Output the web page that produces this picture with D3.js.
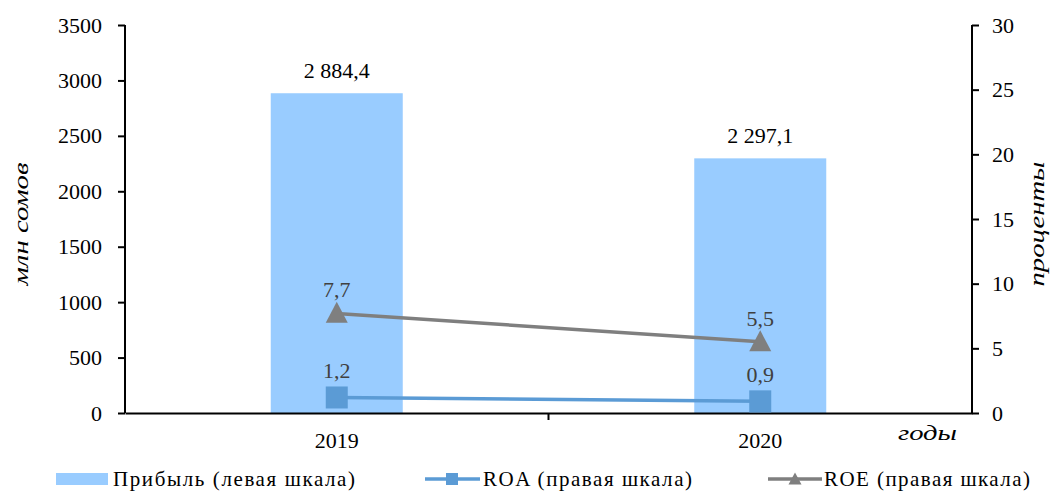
<!DOCTYPE html>
<meta charset="utf-8">
<script src="https://d3js.org/d3.v7.js"></script>
<style>
  body { margin: 0; background: #fff; }
</style>
<body>
<div id="chart"></div>
<script>
  const years = ["2019", "2020"];
  const profit = [2884.4, 2297.1];
  const roa = [1.2, 0.9];
  const roe = [7.7, 5.5];
  const leftTicks = [0, 500, 1000, 1500, 2000, 2500, 3000, 3500];
  const rightTicks = [0, 5, 10, 15, 20, 25, 30];

  const width = 1052, height = 491;
  const margin = {left: 125, right: 80, top: 25, bottom: 78};
  const FONT = '"Liberation Serif", serif';
  const fmt = v => v.toFixed(1).replace(".", ",");
  const fmtBig = v => d3.format(",.1f")(v).replace(",", " ").replace(".", ",");

  const svg = d3.select("#chart").append("svg")
    .attr("width", width).attr("height", height);

  const x = d3.scaleBand().domain(years)
    .range([margin.left, width - margin.right]);
  const yL = d3.scaleLinear().domain([0, 3500])
    .range([height - margin.bottom, margin.top]);
  const yR = d3.scaleLinear().domain([0, 30])
    .range([height - margin.bottom, margin.top]);

  const barW = 132;
  const cx = d => x(d) + x.bandwidth() / 2;

  function txt(sel, size) {
    return sel.style("font-family", FONT).style("font-size", size + "px");
  }

  // bars
  svg.selectAll(".bar").data(years).join("rect")
    .attr("x", d => cx(d) - barW / 2)
    .attr("y", (d, i) => yL(profit[i]))
    .attr("width", barW)
    .attr("height", (d, i) => yL(0) - yL(profit[i]))
    .attr("fill", "#99CCFF");

  svg.selectAll(".barlbl").data(years).join("text")
    .attr("x", d => cx(d))
    .attr("y", (d, i) => yL(profit[i]) - 15)
    .attr("text-anchor", "middle")
    .call(txt, 22)
    .text((d, i) => fmtBig(profit[i]));

  // axes
  const axL = svg.append("g").attr("transform", `translate(${margin.left},0)`)
    .call(d3.axisLeft(yL).tickValues(leftTicks).tickSize(7).tickPadding(16).tickFormat(d3.format("d")));
  const axR = svg.append("g").attr("transform", `translate(${width - margin.right},0)`)
    .call(d3.axisRight(yR).tickValues(rightTicks).tickSize(7).tickPadding(13));
  const axB = svg.append("g").attr("transform", `translate(0,${yL(0)})`)
    .call(d3.axisBottom(x).tickValues([]).tickSizeOuter(0));
  axB.append("line").attr("x1", x("2020")).attr("x2", x("2020")).attr("y1", 0).attr("y2", 7)
    .attr("stroke", "#000").attr("stroke-width", 2);
  [axL, axR, axB].forEach(a => {
    a.select(".domain").attr("stroke", "#000").attr("stroke-width", 2);
    a.selectAll(".tick line").attr("stroke", "#000").attr("stroke-width", 2);
    a.selectAll("text").attr("fill", "#000").call(txt, 22);
  });
  axL.select(".domain").attr("d", `M0,${yL(3500)}V${yL(0)}`);
  axR.select(".domain").attr("d", `M0,${yR(30)}V${yR(0)}`);

  svg.selectAll(".xlbl").data(years).join("text")
    .attr("x", d => cx(d)).attr("y", 448)
    .attr("text-anchor", "middle").call(txt, 22).text(d => d);

  // lines
  const lineR = d3.line().x((d, i) => cx(years[i])).y(d => yR(d));
  svg.append("path").datum(roe).attr("d", lineR).attr("fill", "none")
    .attr("stroke", "#7F7F7F").attr("stroke-width", 3.5);
  svg.append("path").datum(roa).attr("d", lineR).attr("fill", "none")
    .attr("stroke", "#5B9BD5").attr("stroke-width", 3.5);

  const triPath = (w, h) => `M0,${-h * 0.55}L${w / 2},${h * 0.45}L${-w / 2},${h * 0.45}Z`;
  svg.selectAll(".roe").data(roe).join("path")
    .attr("d", triPath(22, 21))
    .attr("transform", (d, i) => `translate(${cx(years[i])},${yR(d)})`)
    .attr("fill", "#7F7F7F");
  svg.selectAll(".roa").data(roa).join("rect")
    .attr("x", (d, i) => cx(years[i]) - 11)
    .attr("y", d => yR(d) - 11)
    .attr("width", 22).attr("height", 22)
    .attr("fill", "#5B9BD5");

  svg.selectAll(".roelbl").data(roe).join("text")
    .attr("x", (d, i) => cx(years[i])).attr("y", d => yR(d) - 16)
    .attr("text-anchor", "middle").call(txt, 22).attr("fill", "#404040")
    .text(d => fmt(d));
  svg.selectAll(".roalbl").data(roa).join("text")
    .attr("x", (d, i) => cx(years[i])).attr("y", d => yR(d) - 19)
    .attr("text-anchor", "middle").call(txt, 22).attr("fill", "#404040")
    .text(d => fmt(d));

  // axis titles
  svg.append("text").attr("transform", "translate(28,224) rotate(-90)")
    .attr("text-anchor", "middle").call(txt, 22).style("font-style", "italic")
    .attr("textLength", 123).attr("lengthAdjust", "spacingAndGlyphs")
    .text("млн сомов");
  svg.append("text").attr("transform", "translate(1044,224) rotate(-90)")
    .attr("text-anchor", "middle").call(txt, 22).style("font-style", "italic")
    .attr("textLength", 125).attr("lengthAdjust", "spacingAndGlyphs")
    .text("проценты");
  svg.append("text").attr("x", 898).attr("y", 440)
    .call(txt, 22).style("font-style", "italic")
    .attr("textLength", 59).attr("lengthAdjust", "spacingAndGlyphs")
    .text("годы");

  // legend
  const ly = 479;
  const lg = svg.append("g");
  lg.append("rect").attr("x", 56).attr("y", ly - 6).attr("width", 52).attr("height", 12).attr("fill", "#99CCFF");
  lg.append("text").attr("x", 113).attr("y", ly + 7).call(txt, 21).attr("textLength", 242)
    .attr("lengthAdjust", "spacing").text("Прибыль (левая шкала)");
  lg.append("line").attr("x1", 425).attr("x2", 480).attr("y1", ly).attr("y2", ly)
    .attr("stroke", "#5B9BD5").attr("stroke-width", 3.5);
  lg.append("rect").attr("x", 446).attr("y", ly - 6).attr("width", 12).attr("height", 12).attr("fill", "#5B9BD5");
  lg.append("text").attr("x", 483).attr("y", ly + 7).call(txt, 21).attr("textLength", 209)
    .attr("lengthAdjust", "spacing").text("ROA (правая шкала)");
  lg.append("line").attr("x1", 768).attr("x2", 822).attr("y1", ly).attr("y2", ly)
    .attr("stroke", "#7F7F7F").attr("stroke-width", 3.5);
  lg.append("path").attr("d", triPath(13, 12))
    .attr("transform", `translate(795,${ly})`).attr("fill", "#7F7F7F");
  lg.append("text").attr("x", 824).attr("y", ly + 7).call(txt, 21).attr("textLength", 206)
    .attr("lengthAdjust", "spacing").text("ROE (правая шкала)");
</script>
</body>
